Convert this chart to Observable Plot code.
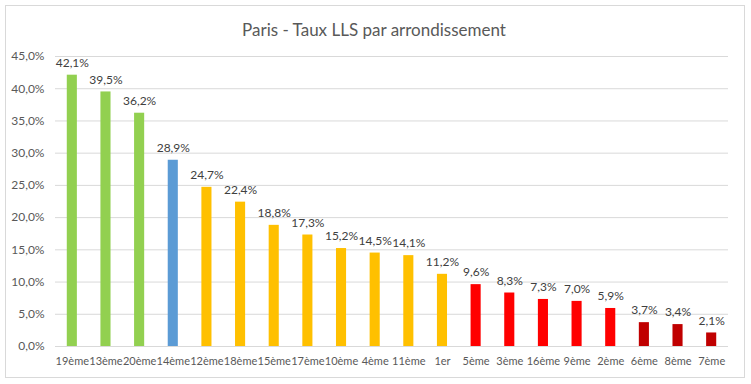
<!DOCTYPE html>
<html>
<head>
<meta charset="utf-8">
<script src="https://cdn.jsdelivr.net/npm/d3@7"></script>
<script src="https://cdn.jsdelivr.net/npm/@observablehq/plot@0.6"></script>
<style>
  body { margin: 0; background: #fff; }
  #wrap { position: relative; width: 751px; height: 384px; overflow: hidden; font-family: Lato, "Open Sans", sans-serif; }
  #frame { position: absolute; left: 5px; top: 5px; width: 738px; height: 371px; border: 1px solid #d9d9d9; pointer-events: none; }
  #chart svg { display: block; }
</style>
</head>
<body>
<div id="wrap"><div id="chart"></div><div id="frame"></div></div>
<script>
const arrondissements = ["19ème","13ème","20ème","14ème","12ème","18ème","15ème","17ème","10ème","4ème","11ème","1er","5ème","3ème","16ème","9ème","2ème","6ème","8ème","7ème"];
const taux = [42.1, 39.5, 36.2, 28.9, 24.7, 22.4, 18.8, 17.3, 15.2, 14.5, 14.1, 11.2, 9.6, 8.3, 7.3, 7.0, 5.9, 3.7, 3.4, 2.1];
const groupes = ["vert","vert","vert","bleu","orange","orange","orange","orange","orange","orange","orange","orange","rouge","rouge","rouge","rouge","rouge","fonce","fonce","fonce"];
const groupeDomaine = ["vert","bleu","orange","rouge","fonce"];
const groupeCouleurs = ["#92D050","#5B9BD5","#FFC000","#FF0000","#C00000"];
const yTicks = [0,5,10,15,20,25,30,35,40,45];
const titre = "Paris - Taux LLS par arrondissement";

const data = arrondissements.map((a, i) => ({a, v: taux[i], g: groupes[i]}));
const fmt = v => v.toFixed(1).replace(".", ",") + "%";

const chart = Plot.plot({
  width: 751,
  height: 384,
  marginTop: 56,
  marginBottom: 38,
  marginLeft: 55,
  marginRight: 23,
  style: {fontFamily: "Lato, 'Open Sans', sans-serif", fontSize: "12px", color: "#595959", background: "transparent"},
  x: {domain: arrondissements, paddingInner: 0.7, paddingOuter: 0.35, round: false, label: null},
  y: {domain: [0, 45], label: null},
  color: {domain: groupeDomaine, range: groupeCouleurs},
  marks: [
    Plot.gridY(yTicks, {stroke: "#d9d9d9", strokeOpacity: 1}),
    Plot.axisY(yTicks, {tickSize: 0, tickPadding: 11, tickFormat: fmt, fill: "#595959", fontSize: 12}),
    Plot.axisX({tickSize: 0, tickPadding: 11, fill: "#595959", fontSize: 11}),
    Plot.barY(data, {x: "a", y: "v", fill: "g"}),
    Plot.text(data, {x: "a", y: "v", text: d => fmt(d.v), dy: -12, fill: "#404040", fontSize: 12}),
    Plot.text([titre], {frameAnchor: "top", lineAnchor: "middle", dx: -18, dy: -26, text: d => d, fontSize: 17, fill: "#595959"})
  ]
});
document.getElementById("chart").appendChild(chart);
</script>
</body>
</html>
